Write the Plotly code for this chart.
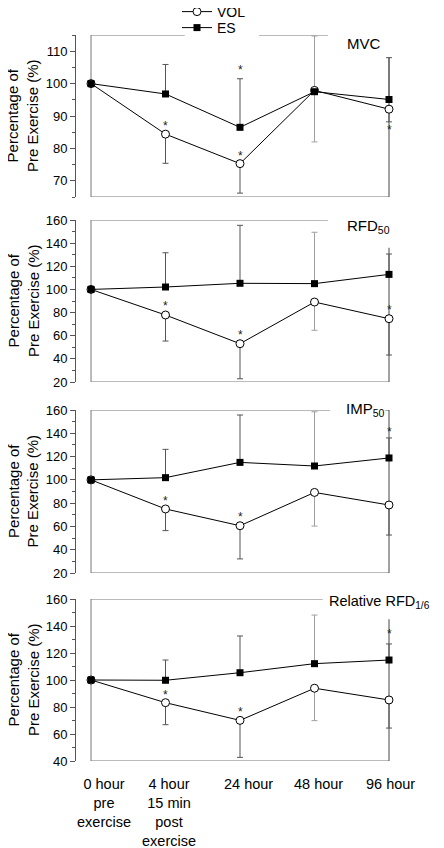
import plotly.graph_objects as go

# ---------------- data ----------------
time_labels = ["0 hour<br>pre<br>exercise", "4 hour<br>15 min<br>post<br>exercise",
               "24 hour", "48 hour", "96 hour"]
time_idx = [0, 1, 2, 3, 4]

panel_names = ["MVC", "RFD<sub>50</sub>", "IMP<sub>50</sub>", "Relative RFD<sub>1/6</sub>"]

mvc_vol = [100, 84.4, 75.3, 97.9, 92.1]
mvc_vol_err = [0, 9.0, 9.1, 15.9, 3.9]
mvc_es = [100, 96.8, 86.5, 97.5, 95.1]
mvc_es_err = [0, 9.1, 15.0, 17.2, 12.9]
mvc_sig_x = [1, 2, 2, 4]
mvc_sig_y = [87.8, 105.2, 78.7, 86.5]

rfd_vol = [100, 77.9, 53.1, 89.1, 74.7]
rfd_vol_err = [0, 22.5, 30.3, 24.4, 31.4]
rfd_es = [100, 102.1, 105.3, 105.0, 113.0]
rfd_es_err = [0, 29.6, 50.1, 44.4, 17.6]
rfd_sig_x = [1, 2, 4]
rfd_sig_y = [88.0, 63.5, 84.8]

imp_vol = [100, 75.0, 60.6, 89.2, 78.4]
imp_vol_err = [0, 18.6, 28.5, 28.9, 25.8]
imp_es = [100, 101.9, 115.0, 111.9, 118.8]
imp_es_err = [0, 24.3, 40.7, 46.6, 17.2]
imp_sig_x = [1, 2, 4]
imp_sig_y = [84.7, 70.7, 144.0]

rel_vol = [100, 83.2, 70.1, 93.9, 85.2]
rel_vol_err = [0, 16.3, 27.4, 24.0, 20.8]
rel_es = [100, 99.8, 105.4, 112.1, 114.8]
rel_es_err = [0, 15.0, 27.2, 36.0, 11.9]
rel_sig_x = [1, 2, 4]
rel_sig_y = [91.1, 78.8, 136.0]

mvc_ticks = [70, 80, 90, 100, 110]
rfd_ticks = [20, 40, 60, 80, 100, 120, 140, 160]
imp_ticks = [20, 40, 60, 80, 100, 120, 140, 160]
rel_ticks = [40, 60, 80, 100, 120, 140, 160]

panels = [
    dict(vol=mvc_vol, vol_err=mvc_vol_err, es=mvc_es, es_err=mvc_es_err,
         sx=mvc_sig_x, sy=mvc_sig_y, ticks=mvc_ticks),
    dict(vol=rfd_vol, vol_err=rfd_vol_err, es=rfd_es, es_err=rfd_es_err,
         sx=rfd_sig_x, sy=rfd_sig_y, ticks=rfd_ticks),
    dict(vol=imp_vol, vol_err=imp_vol_err, es=imp_es, es_err=imp_es_err,
         sx=imp_sig_x, sy=imp_sig_y, ticks=imp_ticks),
    dict(vol=rel_vol, vol_err=rel_vol_err, es=rel_es, es_err=rel_es_err,
         sx=rel_sig_x, sy=rel_sig_y, ticks=rel_ticks),
]

# ---------------- style / layout ----------------
FONT = "Liberation Sans, Arial, Helvetica, sans-serif"
OFF = 8  # page body margin offset
W, H = 444 - OFF, 848 - OFF
ML = 76 - OFF
MT = 35 - OFF
PLOT_RIGHT = 410 - OFF
PLOT_BOTTOM = 761 - OFF
MR = W - PLOT_RIGHT
MB = H - PLOT_BOTTOM
PH = H - MT - MB
PW = W - ML - MR
PXU = 74.5  # pixels per category step

def dom(top_ref, bot_ref):
    top_px, bot_px = top_ref - OFF, bot_ref - OFF
    return [(PLOT_BOTTOM - bot_px) / PH, (PLOT_BOTTOM - top_px) / PH]

styles = [
    dict(domain=dom(35, 197), yrange=[65, 115], minor=5,
         top_segs=[(0, 1.26), (2.255, 3.18)], right_top=108, hook=False,
         label_xy=(3.41, 112.5), label_size=15),
    dict(domain=dom(220, 382), yrange=[20, 160], minor=10,
         top_segs=[(0, 3.18)], right_top=136, hook=False,
         label_xy=(3.41, 154), label_size=15),
    dict(domain=dom(410, 573), yrange=[20, 160], minor=10,
         top_segs=[(0, 3.21)], right_top=160, hook=True,
         label_xy=(3.40, 160), label_size=15),
    dict(domain=dom(599, 761), yrange=[40, 160], minor=10,
         top_segs=[(0, 3.11)], right_top=145, hook=False,
         label_xy=(3.17, 158), label_size=14.5),
]

XR = [-15 / PXU, -15 / PXU + PW / PXU]
DARK = "#555555"
LIGHT = "#a0a0a0"
FRAME = "#777777"
light_idx = [3]

fig = go.Figure()
shapes = []
annotations = []

for i, (p, s) in enumerate(zip(panels, styles)):
    n = i + 1
    xa = "x" if n == 1 else f"x{n}"
    ya = "y" if n == 1 else f"y{n}"

    # error bars (one-sided: ES upward, VOL downward), dark vs light grey
    for group, col in (("dark", DARK), ("light", LIGHT)):
        sel = [k for k in range(5) if ((k in light_idx) == (group == "light")) and k > 0]
        fig.add_trace(go.Scatter(
            x=[time_idx[k] for k in sel], y=[p["es"][k] for k in sel],
            mode="markers", marker=dict(size=1, color="rgba(0,0,0,0)"),
            error_y=dict(type="data", symmetric=False,
                         array=[p["es_err"][k] for k in sel],
                         arrayminus=[0 for k in sel],
                         color=col, thickness=1, width=3),
            showlegend=False, hoverinfo="skip", xaxis=xa, yaxis=ya))
        fig.add_trace(go.Scatter(
            x=[time_idx[k] for k in sel], y=[p["vol"][k] for k in sel],
            mode="markers", marker=dict(size=1, color="rgba(0,0,0,0)"),
            error_y=dict(type="data", symmetric=False,
                         array=[0 for k in sel],
                         arrayminus=[p["vol_err"][k] for k in sel],
                         color=col, thickness=1, width=3),
            showlegend=False, hoverinfo="skip", xaxis=xa, yaxis=ya))

    # main series
    fig.add_trace(go.Scatter(
        x=time_idx, y=p["vol"], mode="lines+markers", name="VOL",
        line=dict(color="black", width=1),
        marker=dict(symbol="circle", size=8, color="white",
                    line=dict(color="black", width=1)),
        showlegend=(n == 1), legend="legend", xaxis=xa, yaxis=ya))
    fig.add_trace(go.Scatter(
        x=time_idx, y=p["es"], mode="lines+markers", name="ES",
        line=dict(color="black", width=1),
        marker=dict(symbol="square", size=7, color="black",
                    line=dict(color="black", width=0)),
        showlegend=(n == 1), legend="legend2", xaxis=xa, yaxis=ya))

    # significance asterisks
    for xs, ys in zip(p["sx"], p["sy"]):
        annotations.append(dict(x=xs, y=ys, xref=xa, yref=ya, text="*",
                                showarrow=False, yshift=-3,
                                font=dict(family=FONT, size=12, color="#222")))

    y0, y1 = s["yrange"]
    # frame lines
    shapes.append(dict(type="line", xref=xa, yref=ya, x0=0, x1=0, y0=y0, y1=y1,
                       line=dict(color=FRAME, width=1), layer="below"))
    shapes.append(dict(type="line", xref=xa, yref=ya, x0=0, x1=4, y0=y0, y1=y0,
                       line=dict(color=FRAME, width=1), layer="below"))
    for a, b in s["top_segs"]:
        shapes.append(dict(type="line", xref=xa, yref=ya, x0=a, x1=b, y0=y1, y1=y1,
                           line=dict(color=FRAME, width=1), layer="below"))
    shapes.append(dict(type="line", xref=xa, yref=ya, x0=4, x1=4, y0=y0,
                       y1=s["right_top"], line=dict(color="#444", width=1), layer="below"))
    if s["hook"]:
        shapes.append(dict(type="line", xref=xa, yref=ya, x0=3.95, x1=4, y0=y1, y1=y1,
                           line=dict(color="#444", width=1), layer="below"))

    # panel label
    lx, ly = s["label_xy"]
    annotations.append(dict(x=lx, y=ly, xref=xa, yref=ya, text=panel_names[i],
                            showarrow=False, xanchor="left", yanchor="middle",
                            font=dict(family=FONT, size=s["label_size"], color="black")))

    # y title
    annotations.append(dict(x=-53 / PW, y=(s["domain"][0] + s["domain"][1]) / 2,
                            xref="paper", yref="paper",
                            text="Percentage of<br>Pre Exercise (%)", textangle=-90,
                            showarrow=False, xanchor="center", yanchor="middle",
                            font=dict(family=FONT, size=15, color="black")))

    fig.update_layout(**{
        ("xaxis" if n == 1 else f"xaxis{n}"): dict(
            domain=[0, 1], range=XR, showline=False, showgrid=False, zeroline=False,
            showticklabels=False, ticks="", anchor=ya, fixedrange=True),
        ("yaxis" if n == 1 else f"yaxis{n}"): dict(
            domain=s["domain"], range=s["yrange"], showline=True, linecolor="#555",
            linewidth=1, showgrid=False, zeroline=False, ticks="outside", ticklen=5,
            tickcolor="#555", tickwidth=1, tickvals=p["ticks"],
            ticktext=[str(t) for t in p["ticks"]],
            tickfont=dict(family=FONT, size=13, color="black"),
            minor=dict(ticks="outside", ticklen=3, tickcolor="#555", dtick=s["minor"],
                       tick0=s["yrange"][0], showgrid=False),
            anchor=xa, fixedrange=True),
    })

# x category labels under the bottom panel
label_xshift = [13, 3, 8, 4, 1]
for k, lab in enumerate(time_labels):
    annotations.append(dict(x=time_idx[k], y=0, xref="x4", yref="y4 domain", text=lab,
                            showarrow=False, xanchor="center", yanchor="top",
                            xshift=label_xshift[k], yshift=-13, align="center",
                            font=dict(family=FONT, size=14.5, color="black")))

leg_x = (177 - OFF - ML) / PW
fig.update_layout(
    width=W, height=H,
    margin=dict(l=ML, r=MR, t=MT, b=MB, autoexpand=False),
    paper_bgcolor="white", plot_bgcolor="white",
    font=dict(family=FONT, size=15, color="black"),
    shapes=shapes, annotations=annotations,
    showlegend=True,
    legend=dict(x=leg_x, y=1 + (MT + 12) / PH, xanchor="left", yanchor="top",
                bgcolor="rgba(0,0,0,0)", borderwidth=0,
                font=dict(family=FONT, size=14, color="black")),
    legend2=dict(x=leg_x, y=1 + (MT - 4) / PH, xanchor="left", yanchor="top",
                 bgcolor="rgba(0,0,0,0)", borderwidth=0,
                 font=dict(family=FONT, size=14, color="black")),
)

fig.write_html("out.html")
